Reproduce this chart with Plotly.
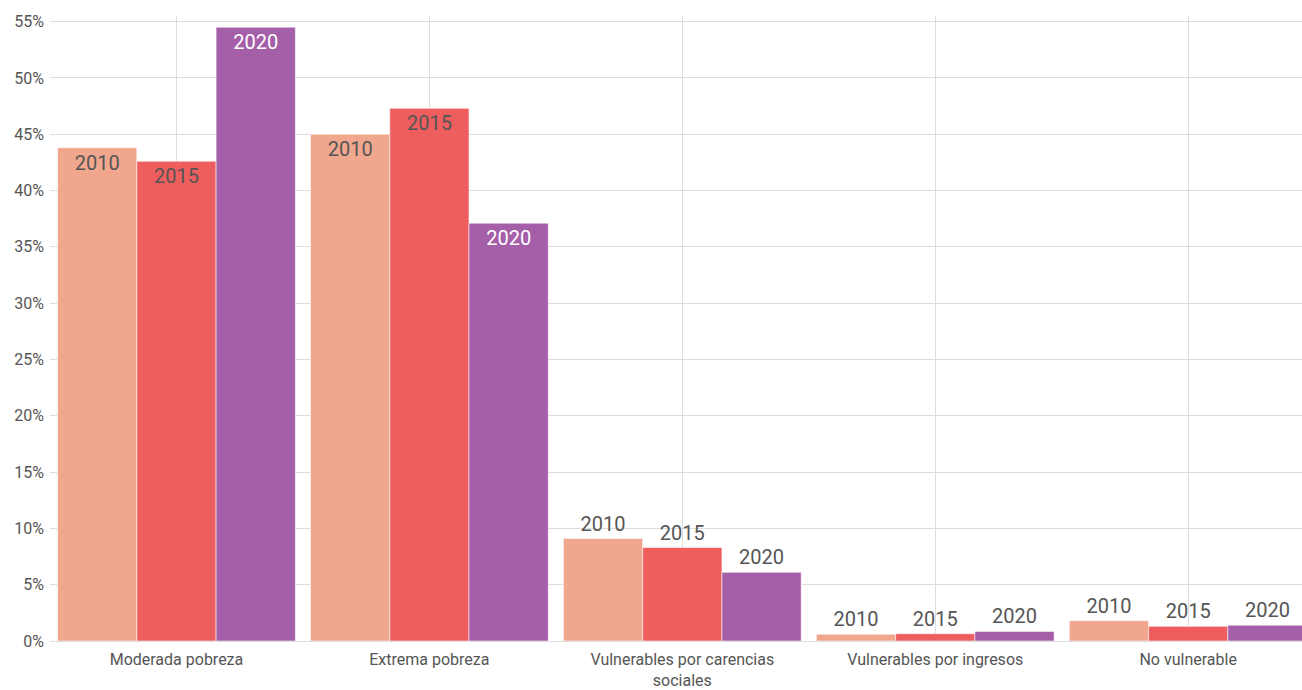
import plotly.graph_objects as go

# Categories and values (percent of population)
categorias = [
    "Moderada pobreza",
    "Extrema pobreza",
    "Vulnerables por carencias<br>sociales",
    "Vulnerables por ingresos",
    "No vulnerable",
]
anios = ["2010", "2015", "2020"]
v2010 = [43.8, 45.0, 9.1, 0.6, 1.8]
v2015 = [42.6, 47.3, 8.3, 0.65, 1.3]
v2020 = [54.5, 37.1, 6.1, 0.85, 1.4]

# y-axis ticks
ticks_y = [0, 5, 10, 15, 20, 25, 30, 35, 40, 45, 50, 55]
etiquetas_y = [f"{t}%" for t in ticks_y]

colores = ["#F0A78E", "#EF5E5E", "#A55EA8"]
texto_dentro = ["#555555", "#555555", "#FFFFFF"]
FONT = "Roboto, sans-serif"

fig = go.Figure()
for anio, vals, col, tcol in zip(anios, [v2010, v2015, v2020], colores, texto_dentro):
    # tall bars carry the label inside the top, short ones above
    posiciones = ["inside" if v > 20 else "outside" for v in vals]
    fig.add_trace(go.Bar(
        x=categorias,
        y=vals,
        name=anio,
        marker=dict(color=col, line=dict(color="rgba(255,255,255,0.55)", width=1)),
        text=[anio] * len(vals),
        textposition=posiciones,
        insidetextanchor="end",
        insidetextfont=dict(family=FONT, size=20, color=tcol),
        outsidetextfont=dict(family=FONT, size=20, color="#555555"),
        cliponaxis=False,
        hovertemplate="%{x}: %{y}%<extra>" + anio + "</extra>",
    ))

fig.update_layout(
    width=1302,
    height=690,
    barmode="group",
    bargap=0.06,
    bargroupgap=0,
    showlegend=False,
    plot_bgcolor="white",
    paper_bgcolor="white",
    margin=dict(l=50, r=0, t=16, b=49),
    font=dict(family=FONT, size=16, color="#555555"),
    uniformtext=dict(minsize=20, mode="show"),
    xaxis=dict(
        range=[-0.5, 4.45],
        showgrid=True,
        gridcolor="#DDDDDD",
        gridwidth=1,
        showline=False,
        ticks="",
        ticklabelstandoff=7,
        tickfont=dict(family=FONT, size=16, color="#555555"),
    ),
    yaxis=dict(
        range=[0, 55.5],
        tickmode="array",
        tickvals=ticks_y,
        ticktext=etiquetas_y,
        showgrid=True,
        gridcolor="#DDDDDD",
        gridwidth=1,
        zeroline=True,
        zerolinecolor="#DDDDDD",
        zerolinewidth=1,
        ticks="",
        ticklabelstandoff=5,
        tickfont=dict(family=FONT, size=16, color="#555555"),
    ),
)

fig.write_html("out.html")
